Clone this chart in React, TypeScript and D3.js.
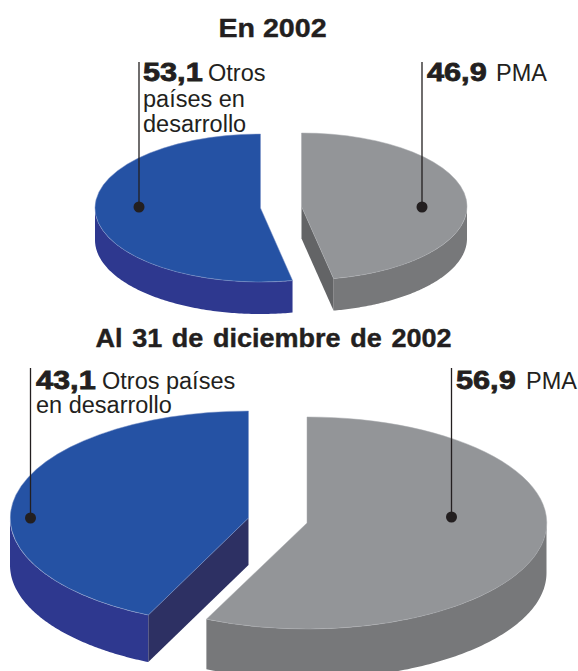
import React from "react";
import * as d3 from "d3";

const titles = ["En 2002", "Al 31 de diciembre de 2002"];
const categories = ["Otros países en desarrollo", "PMA"];
const valuesFirst = [53.1, 46.9];
const valuesSecond = [43.1, 56.9];
const valueLabelsFirst = ["53,1", "46,9"];
const valueLabelsSecond = ["43,1", "56,9"];

const FONT = "'Liberation Sans', Arial, sans-serif";
const INK = "#231f20";
const colors = [
  { top: "#2552a4", rim: "#2e388f", cut: "#2d3063", edge: "#7f95c8" },
  { top: "#939598", rim: "#77787a", cut: "#636466", edge: "#a9abae" },
];

type Geo = { cx: number; cy: number; rx: number; ry: number; depth: number };

function Slice({ slice, geo, palette }: { slice: any; geo: Geo; palette: any }) {
  const { cx, cy, rx, ry, depth } = geo;
  const a0 = slice.startAngle;
  const a1 = slice.endAngle;
  const px = d3.scaleLinear().domain([-1, 1]).range([cx - rx, cx + rx]);
  const py = d3.scaleLinear().domain([-1, 1]).range([cy - ry, cy + ry]);
  const pt = (t: number, dz = 0): [number, number] => [px(Math.sin(t)), py(-Math.cos(t)) + dz];

  // visible part of the outer wall: the front half of the ellipse
  const lo = Math.max(a0, a0 < 0 ? a0 : Math.PI / 2);
  const hi = a0 < 0 ? Math.min(a1, -Math.PI / 2) : a1;
  const ts = d3.range(0, 121).map((i) => lo + ((hi - lo) * i) / 120);
  const rim = d3.line()([
    ...ts.map((t) => pt(t)),
    ...ts.slice().reverse().map((t) => pt(t, depth)),
  ]) + "Z";

  // radial cut face, visible only when it faces the viewer
  const cutAngle = a0 < 0 ? a0 : a1;
  const visible = a0 < 0 ? Math.sin(a0) < 0 : Math.sin(a1) > 0;
  const apex: [number, number] = [px(0), py(0)];
  const apexLow: [number, number] = [px(0), py(0) + depth];
  const cut = d3.line()([apex, pt(cutAngle), pt(cutAngle, depth), apexLow]) + "Z";

  const topArc = d3.arc()({ innerRadius: 0, outerRadius: 1, startAngle: a0, endAngle: a1 } as any) as string;

  return (
    <g>
      <path d={rim} fill={palette.rim} />
      {visible && <path d={cut} fill={palette.cut} />}
      <path
        d={topArc}
        transform={`translate(${cx},${cy}) scale(${rx},${ry})`}
        fill={palette.top}
        stroke={palette.edge}
        strokeWidth={0.5}
        vectorEffect="non-scaling-stroke"
      />
    </g>
  );
}

function Pie({ values, geos }: { values: number[]; geos: Geo[] }) {
  const slices = d3
    .pie<number>()
    .sort(null)
    .value((d) => d)
    .startAngle((-2 * Math.PI * values[0]) / d3.sum(values))
    .endAngle(2 * Math.PI - (2 * Math.PI * values[0]) / d3.sum(values))(values);
  return (
    <g>
      {slices.map((s, i) => (
        <Slice key={categories[i]} slice={s} geo={geos[i]} palette={colors[i]} />
      ))}
    </g>
  );
}

function Leader({ x, y0, y1 }: { x: number; y0: number; y1: number }) {
  return (
    <g>
      <line x1={x} x2={x} y1={y0} y2={y1} stroke={INK} strokeWidth={1.3} />
      <circle cx={x} cy={y1} r={5.5} fill={INK} />
    </g>
  );
}

function Val({ x, y, text }: { x: number; y: number; text: string }) {
  return (
    <text
      transform={`translate(${x},${y}) scale(1.18,1)`}
      fontFamily={FONT}
      fontWeight={700}
      fontSize={26}
      fill={INK}
      stroke={INK}
      strokeWidth={0.8}
    >
      {text}
    </text>
  );
}

function Lab({ x, y, text }: { x: number; y: number; text: string }) {
  return (
    <text x={x} y={y} fontFamily={FONT} fontSize={23.5} fill={INK}>
      {text}
    </text>
  );
}

function Title({ x, y, text, size, sx, ws }: { x: number; y: number; text: string; size: number; sx: number; ws: number }) {
  return (
    <text
      transform={`translate(${x},${y}) scale(${sx},1)`}
      textAnchor="middle"
      fontFamily={FONT}
      fontWeight={700}
      fontSize={size}
      fill={INK}
      stroke={INK}
      strokeWidth={0.4}
      wordSpacing={ws}
    >
      {text}
    </text>
  );
}

export default function App() {
  return (
    <svg
      width={578}
      height={671}
      viewBox="0 0 578 671"
      style={{ position: "absolute", left: 0, top: 0, background: "#fff" }}
    >
      <Pie
        values={valuesFirst}
        geos={[
          { cx: 260.5, cy: 208, rx: 165.5, ry: 74, depth: 32 },
          { cx: 301.5, cy: 206.5, rx: 165.5, ry: 73.5, depth: 32 },
        ]}
      />
      <Pie
        values={valuesSecond}
        geos={[
          { cx: 248.5, cy: 518, rx: 238.5, ry: 107, depth: 47 },
          { cx: 307, cy: 523, rx: 239.5, ry: 106, depth: 50 },
        ]}
      />

      <Title x={272.5} y={37} text={titles[0]} size={26.5} sx={1.08} ws={0} />
      <Title x={273.5} y={347} text={titles[1]} size={25.5} sx={1.06} ws={2} />

      <Leader x={139} y0={62} y1={207} />
      <Val x={143} y={81} text={valueLabelsFirst[0]} />
      <Lab x={208} y={81} text="Otros" />
      <Lab x={143} y={107} text="países en" />
      <Lab x={143} y={132} text="desarrollo" />

      <Leader x={422} y0={62} y1={207} />
      <Val x={427} y={81} text={valueLabelsFirst[1]} />
      <Lab x={496} y={81} text={categories[1]} />

      <Leader x={30.5} y0={368} y1={518} />
      <Val x={36} y={389} text={valueLabelsSecond[0]} />
      <Lab x={102} y={389} text="Otros países" />
      <Lab x={36} y={413} text="en desarrollo" />

      <Leader x={451.5} y0={368} y1={517} />
      <Val x={456} y={389} text={valueLabelsSecond[1]} />
      <Lab x={526} y={389} text={categories[1]} />
    </svg>
  );
}
